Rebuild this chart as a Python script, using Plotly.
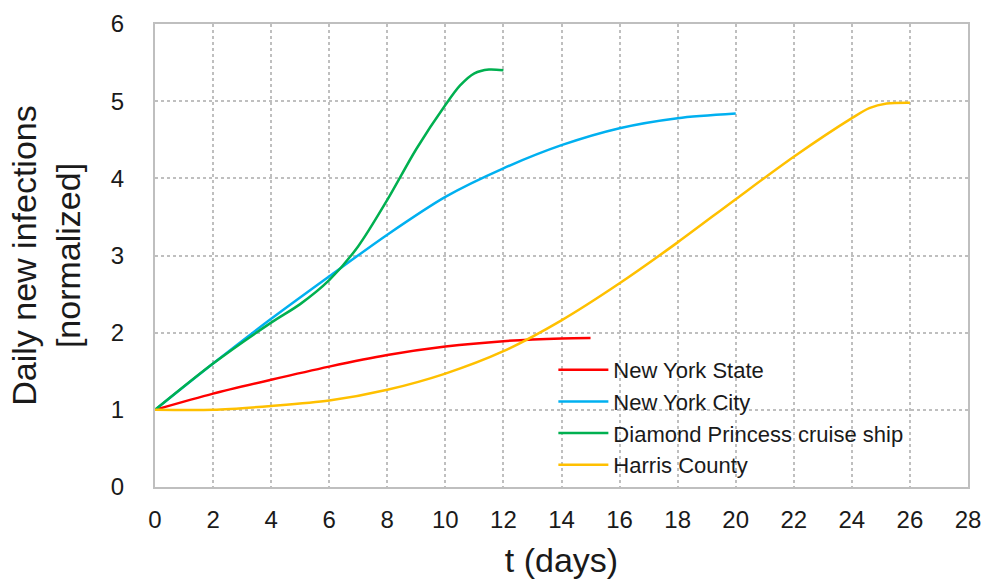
import plotly.graph_objects as go

# Days since the start of each outbreak window
t_nys = [0, 2, 4, 6, 8, 10, 12, 14, 15]
nys = [1.0, 1.21, 1.39, 1.56, 1.71, 1.82, 1.89, 1.925, 1.93]

t_nyc = [0, 2, 4, 6, 8, 10, 12, 14, 16, 18, 20]
nyc = [1.0, 1.6, 2.18, 2.73, 3.27, 3.76, 4.13, 4.43, 4.65, 4.78, 4.84]

t_dp = [0, 2, 4, 5, 6, 7, 8, 9, 10, 10.5, 11, 11.5, 12]
dp = [1.0, 1.6, 2.13, 2.37, 2.68, 3.12, 3.72, 4.38, 4.95, 5.2, 5.36, 5.41, 5.4]

t_harris = [0, 2, 4, 6, 8, 10, 12, 14, 16, 18, 20, 22, 24, 24.6, 25.2, 26]
harris = [1.0, 1.0, 1.05, 1.12, 1.26, 1.47, 1.76, 2.16, 2.64, 3.17, 3.73, 4.28, 4.78, 4.91, 4.97, 4.98]

series = [
    ("New York State", t_nys, nys, "#FF0000"),
    ("New York City", t_nyc, nyc, "#00B0F0"),
    ("Diamond Princess cruise ship", t_dp, dp, "#00B050"),
    ("Harris County", t_harris, harris, "#FFC000"),
]

x_ticks = list(range(0, 29, 2))
y_ticks = list(range(0, 7))

fig = go.Figure()
for name, t, y, color in series:
    fig.add_trace(go.Scatter(
        x=t, y=y, name=name, mode="lines",
        line=dict(color=color, width=2.5, shape="spline", smoothing=0.8),
    ))

font_family = "Liberation Sans, Arial, sans-serif"
grid = dict(
    showgrid=True, gridcolor="#BFBFBF", gridwidth=1.5, griddash="dot",
    showline=True, linecolor="#BFBFBF", linewidth=2, mirror=True,
    zeroline=False, ticks="", automargin=False,
    tickfont=dict(size=24, color="#1a1a1a", family=font_family),
)

fig.update_layout(
    width=989, height=583,
    margin=dict(l=155, r=21, t=24, b=96),
    paper_bgcolor="white", plot_bgcolor="white",
    font=dict(family=font_family, color="#1a1a1a"),
    xaxis=dict(range=[0, 28], tickvals=x_ticks, ticklabelstandoff=10,
               title=dict(text="t (days)", font=dict(size=34), standoff=16), **grid),
    yaxis=dict(range=[0, 6], tickvals=y_ticks, ticklabelstandoff=24,
               title=dict(text="Daily new infections<br>[normalized]", font=dict(size=34), standoff=20), **grid),
    legend=dict(x=0.49, y=0.298, xanchor="left", yanchor="top",
                bgcolor="rgba(0,0,0,0)", font=dict(size=22, family=font_family),
                itemwidth=50, tracegroupgap=0),
    showlegend=True,
)

fig.write_html("out.html")
